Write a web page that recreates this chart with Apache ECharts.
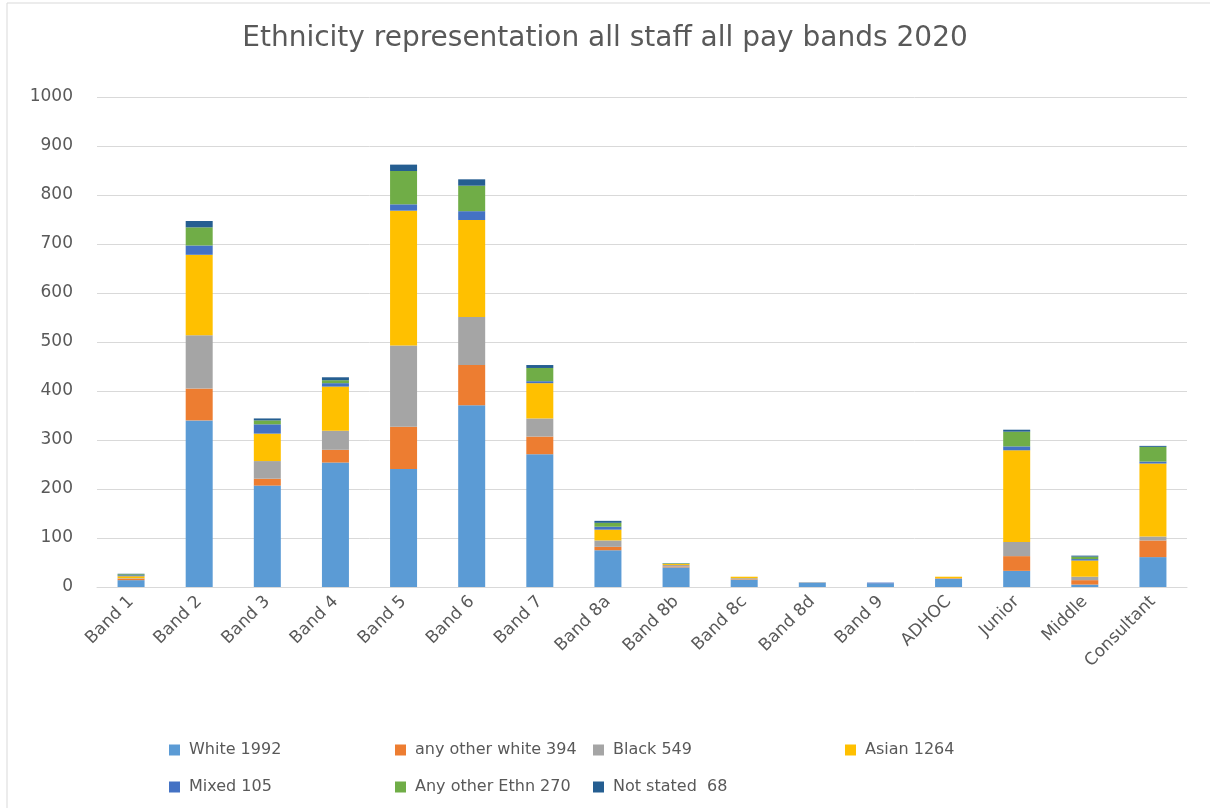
<!DOCTYPE html>
<html><head><meta charset="utf-8">
<script src="https://cdn.jsdelivr.net/npm/echarts@6/dist/echarts.min.js"></script>
<style>html,body{margin:0;padding:0;background:#fff}#c{width:1210px;height:808px}</style>
</head><body><div id="c"></div>
<script>
const categories = ['Band 1','Band 2','Band 3','Band 4','Band 5','Band 6','Band 7','Band 8a','Band 8b','Band 8c','Band 8d','Band 9','ADHOC','Junior','Middle','Consultant'];
const seriesNames = ['White 1992','any other white 394','Black 549','Asian 1264','Mixed 105','Any other Ethn 270','Not stated  68'];
const white      = [14,340,207,254,241,371,271,75,40,15,9,7,17,33,5,61];
const otherWhite = [3,65,14,26,86,82,36,7,2,1,0,0,1,30,9,34];
const black      = [1,109,36,39,166,98,37,13,3,2,1,0,0,29,7,8];
const asian      = [4,164,56,90,275,198,72,22,2,3,0,0,3,187,33,149];
const mixed      = [2,19,19,7,13,18,4,6,1,0,0,2,0,8,3,4];
const otherEthn  = [2,37,8,6,68,52,27,8,1,0,0,0,0,30,5,30];
const notStated  = [1,13,4,6,13,13,6,4,0,0,0,0,0,4,2,2];
const yTicks = [0,100,200,300,400,500,600,700,800,900,1000];

const values = [white, otherWhite, black, asian, mixed, otherEthn, notStated];
const colors = ['#5B9BD5','#ED7D31','#A5A5A5','#FFC000','#4472C4','#70AD47','#255E91'];
const legendPos = [[164,737],[390,737],[588,737],[840,737],[164,774],[390,774],[588,774]];
const font = 'DejaVu Sans';

const chart = echarts.init(document.getElementById('c'));
chart.setOption({
  animation:false,
  backgroundColor:'#fff',
  title:{text:'Ethnicity representation all staff all pay bands 2020',left:'center',top:20,
    textStyle:{fontFamily:font,fontSize:28,fontWeight:'normal',color:'#595959'}},
  graphic:[{type:'rect',shape:{x:7,y:3,width:1210,height:810},style:{fill:'none',stroke:'#d9d9d9',lineWidth:1},silent:true}],
  legend: seriesNames.map((n,i)=>({data:[n],left:legendPos[i][0],top:legendPos[i][1],itemWidth:11,itemHeight:11,itemGap:5,icon:'rect',
    textStyle:{fontFamily:font,fontSize:16,color:'#595959',padding:[0,0,0,4]}})),
  grid:{left:97,right:23,top:97,bottom:221,containLabel:false},
  xAxis:{type:'category',data:categories,
    axisLine:{lineStyle:{color:'#d9d9d9'}},axisTick:{show:false},
    axisLabel:{rotate:45,interval:0,fontFamily:font,fontSize:17,color:'#595959',margin:12}},
  yAxis:{type:'value',min:0,max:1000,interval:100,
    axisLine:{show:false},axisTick:{show:false},
    splitLine:{lineStyle:{color:'#d9d9d9'}},
    axisLabel:{fontFamily:font,fontSize:17,color:'#595959',margin:24,
      formatter:v=>yTicks.includes(v)?String(v):''}},
  series: seriesNames.map((n,i)=>({name:n,type:'bar',stack:'all',data:values[i],barWidth:27,
    itemStyle:{color:colors[i]}}))
});
</script></body></html>
